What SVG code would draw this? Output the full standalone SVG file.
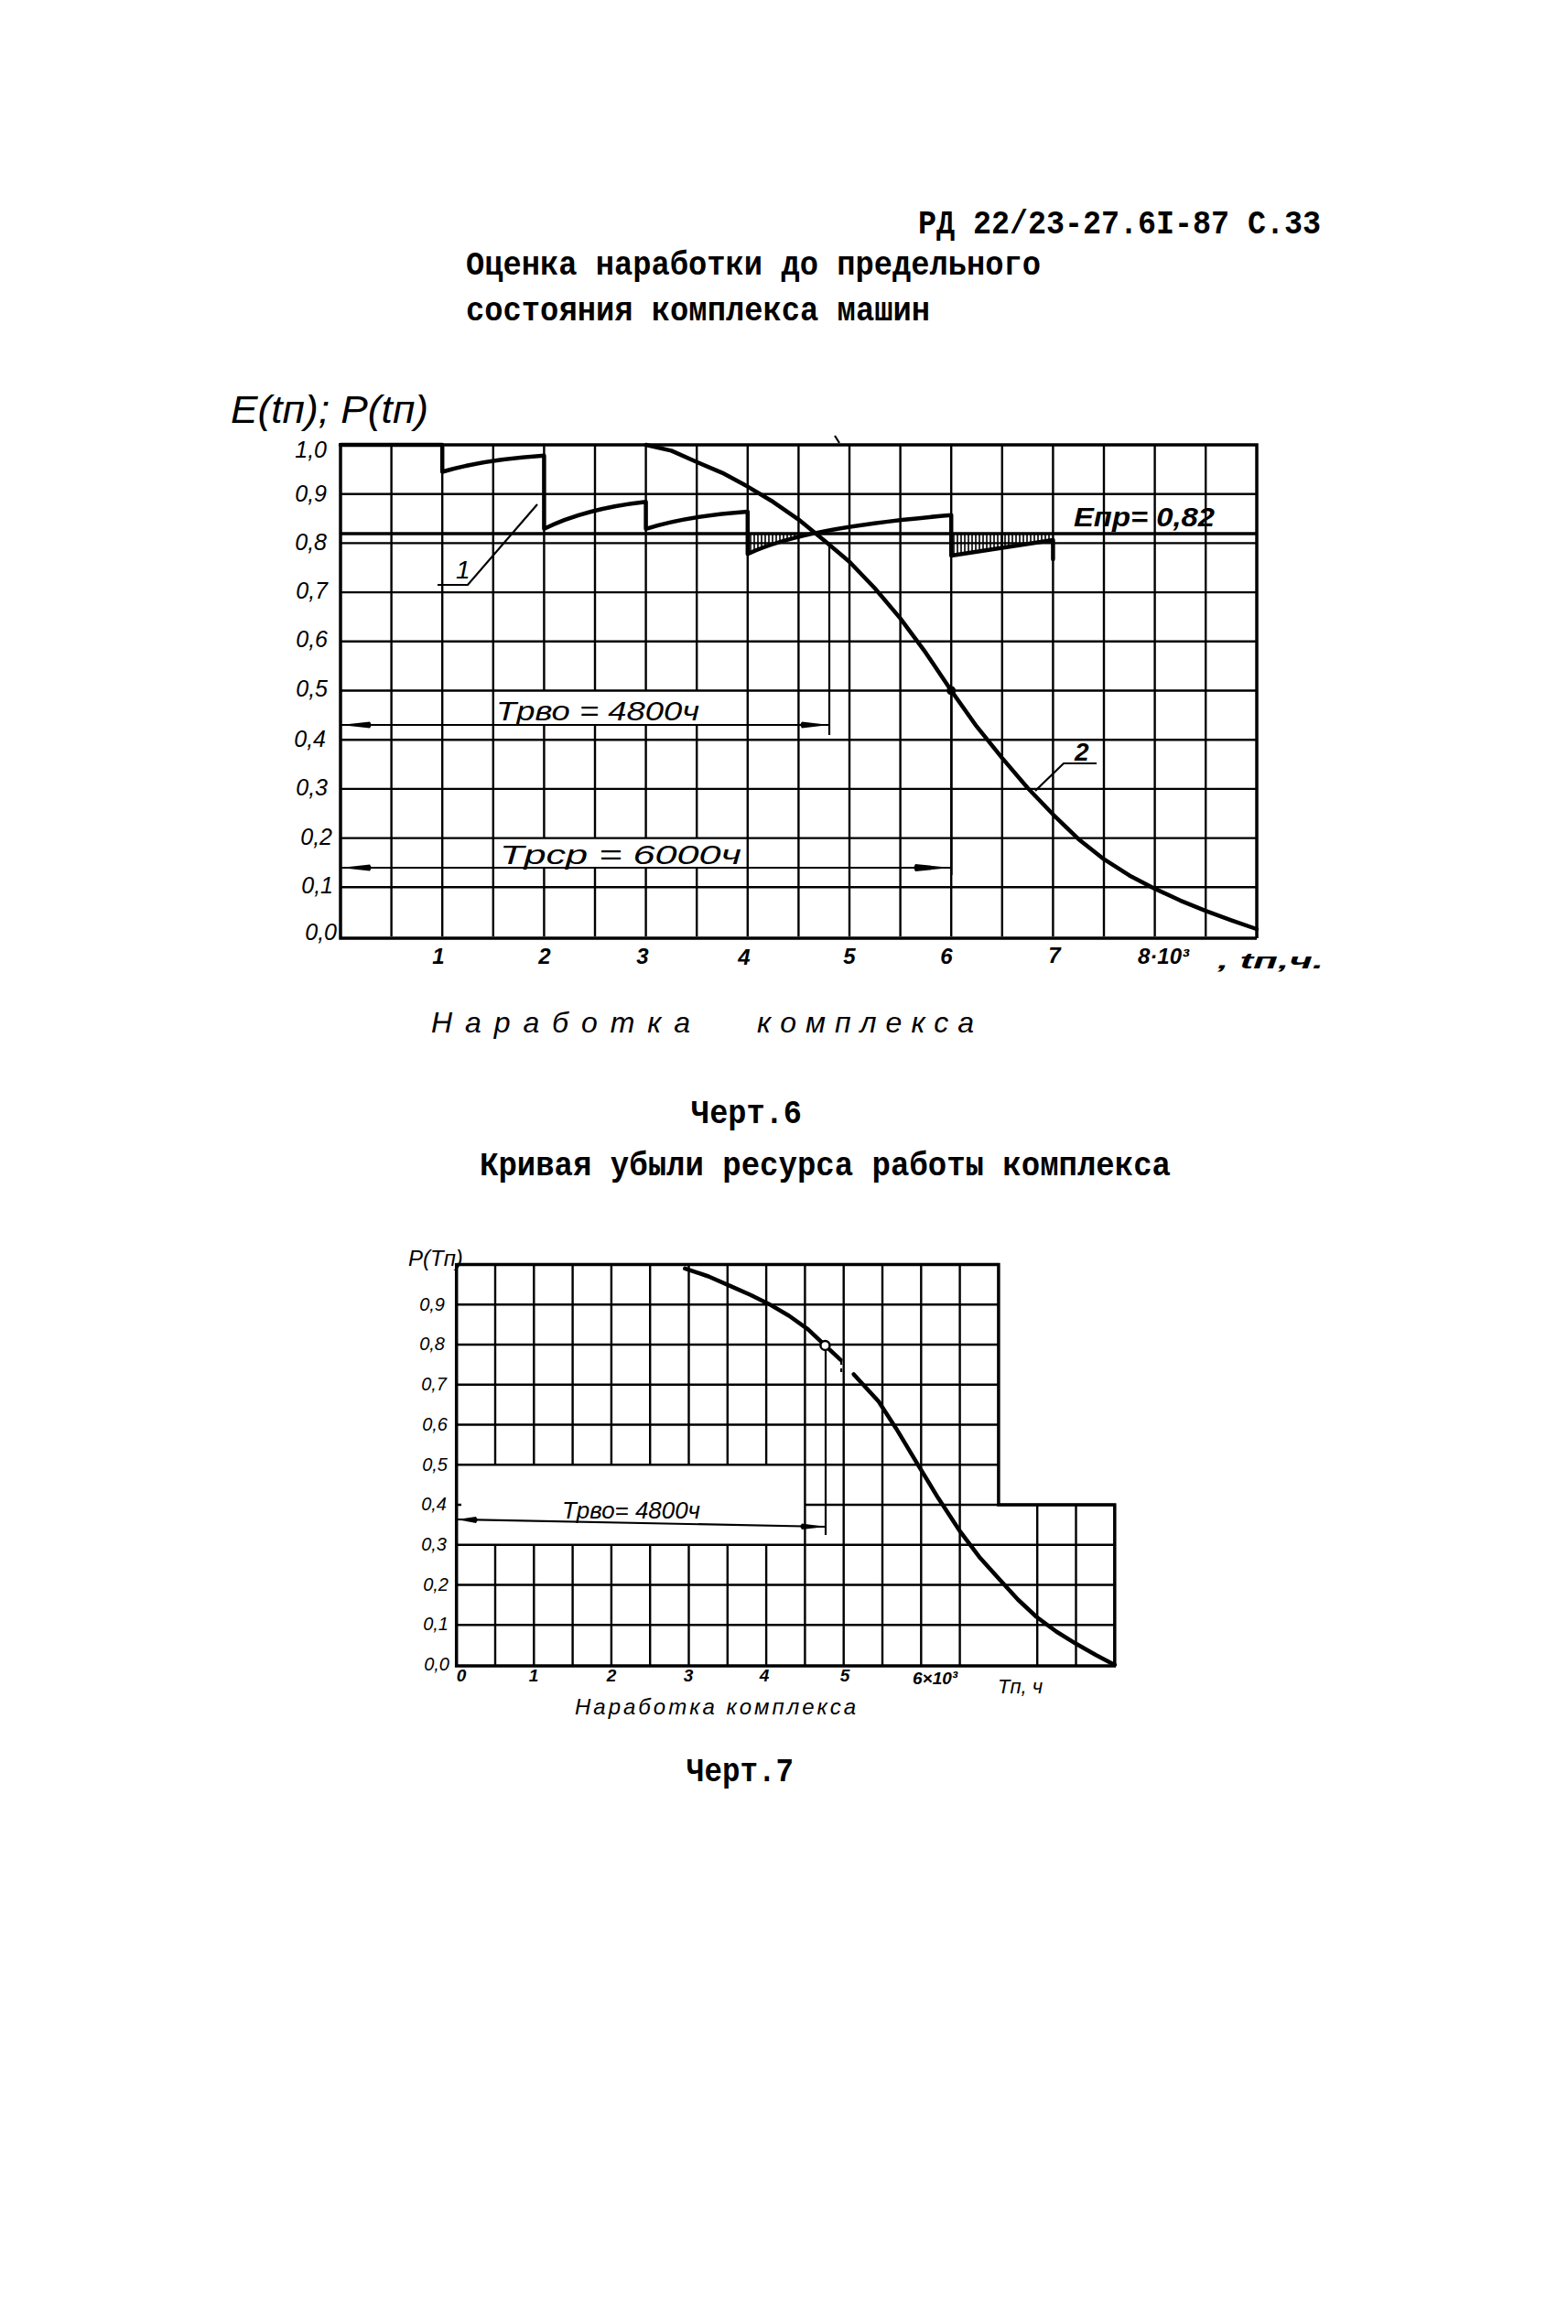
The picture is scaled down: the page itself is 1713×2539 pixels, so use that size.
<svg xmlns="http://www.w3.org/2000/svg" width="1713" height="2539" viewBox="0 0 1713 2539">
<style>
.tw{font-family:"Liberation Mono","DejaVu Sans Mono",monospace;font-weight:bold;font-size:36px;fill:#000}
.hw{font-family:"Liberation Sans","DejaVu Sans",sans-serif;font-style:italic;fill:#000}
.grid{fill:none;stroke:#000;stroke-width:2.4}
.border{fill:none;stroke:#000;stroke-width:3.5}
.curve{fill:none;stroke:#000;stroke-width:4.5;stroke-linejoin:round;stroke-linecap:round}
.thin{fill:none;stroke:#000;stroke-width:2.2}
.hatch{fill:none;stroke:#000;stroke-width:1.6}
</style>
<rect width="1713" height="2539" fill="#fff"/>

<g id="page-text">
<text class="tw" x="1003" y="255" textLength="440" lengthAdjust="spacingAndGlyphs">РД 22/23-27.6I-87 С.33</text>
<text class="tw" x="509" y="300" textLength="628" lengthAdjust="spacingAndGlyphs">Оценка наработки до предельного</text>
<text class="tw" x="509" y="350" textLength="507" lengthAdjust="spacingAndGlyphs">состояния комплекса машин</text>
<text class="tw" x="755" y="1227" textLength="121" lengthAdjust="spacingAndGlyphs">Черт.6</text>
<text class="tw" x="524" y="1284" textLength="755" lengthAdjust="spacingAndGlyphs">Кривая убыли ресурса работы комплекса</text>
<text class="tw" x="750" y="1946" textLength="117" lengthAdjust="spacingAndGlyphs">Черт.7</text>
</g>

<g id="chart6">
<g id="chart6-grid">
<path class="grid" d="M427.6,486V1023M483.2,486V1023M538.8,486V1023M816.8,486V1023M872.4,486V1023M928,486V1023M983.6,486V1023M1039.2,486V1023M1094.8,486V1023M1150.4,486V1023M1206,486V1023M1261.6,486V1023M1317.2,486V1023
M594.4,486V754.5M594.4,792V915.6M594.4,948V1023
M650,486V754.5M650,792V915.6M650,948V1023
M705.6,486V754.5M705.6,792V915.6M705.6,948V1023
M761.2,486V754.5M761.2,792V915.6M761.2,948V1023"/>
<path class="grid" d="M372,539.7H1373M372,593.4H1373M372,647.1H1373M372,700.8H1373M372,754.5H1373M372,808.2H1373M372,861.9H1373M372,915.6H1373M372,969.3H1373"/>
<path class="border" d="M372,486H1373V1025M372,484V1025H1373"/>
<line class="border" x1="372" y1="583" x2="1373" y2="583" stroke-width="3"/>
<line class="thin" x1="912" y1="476" x2="917" y2="484"/>
</g>
<g id="chart6-ylabels" class="hw" font-size="25" text-anchor="end">
<text x="357" y="500">1,0</text>
<text x="357" y="548">0,9</text>
<text x="357" y="601">0,8</text>
<text x="358" y="654">0,7</text>
<text x="358" y="707">0,6</text>
<text x="358" y="761">0,5</text>
<text x="356" y="816">0,4</text>
<text x="358" y="869">0,3</text>
<text x="363" y="923">0,2</text>
<text x="364" y="976">0,1</text>
<text x="368" y="1027">0,0</text>
</g>
<g id="chart6-xlabels" class="hw" font-size="24" font-weight="bold" text-anchor="middle">
<text x="479" y="1053">1</text>
<text x="595" y="1053">2</text>
<text x="702" y="1053">3</text>
<text x="813" y="1054">4</text>
<text x="928" y="1053">5</text>
<text x="1034" y="1053">6</text>
<text x="1152" y="1052">7</text>
<text x="1243" y="1053" text-anchor="start">8·10³</text>
<text x="1330" y="1058" text-anchor="start" textLength="116" lengthAdjust="spacingAndGlyphs">, tп,ч.</text>
</g>
<text id="chart6-ytitle" class="hw" x="252" y="462" font-size="42" textLength="216" lengthAdjust="spacingAndGlyphs">E(tп); P(tп)</text>
<g id="chart6-xtitle" class="hw" font-size="32">
<text x="471" y="1128" textLength="283" lengthAdjust="spacing">Наработка</text>
<text x="827" y="1128" textLength="237" lengthAdjust="spacing">комплекса</text>
</g>
<g id="curve-E">
<path class="curve" d="M372,486H483.2V515.5Q527.7,502.2 594.4,497.8V577.8Q638.9,555.7 705.6,548.3V577.8Q750.1,563.7 816.8,559V605.2C860,585 930,572 1039.2,562.8V607L1150.4,590V611"/>
<path class="hatch" d="M820,583V604M824,583V602.3M828,583V600.7M832,583V599.1M836,583V597.5M840,583V595.9M844,583V594.3M848,583V592.7M852,583V591.3M856,583V590.2M860,583V589.1M864,583V588M868,583V586.9M872,583V585.8
M1042,584V606.5M1046,584V605.9M1050,584V605.3M1054,584V604.7M1058,584V604M1062,584V603.4M1066,584V602.8M1070,584V602.2M1074,584V601.5M1078,584V600.9M1082,584V600.3M1086,584V599.7M1090,584V599M1094,584V598.4M1098,584V597.8M1102,584V597.2M1106,584V596.5M1110,584V595.9M1114,584V595.3M1118,584V594.7M1122,584V594.1M1126,584V593.4M1130,584V592.8M1134,584V592.2M1138,584V591.6M1142,584V590.9M1146,584V590.3"/>
</g>
<g id="curve-P">
<path class="curve" stroke-width="5" d="M705.6,486L733.4,492.4L761.2,504.8L789,516.6L816.8,531.6L844.6,548.3L872.4,567.6L900.2,590.2L928,613.8L955.8,642.8L983.6,675.6L1011.4,713.2L1039.2,754.5L1067,793.7L1094.8,828.1L1122.6,860.8L1150.4,889.8L1178.2,916.7L1206,938.7L1233.8,956.4L1261.6,970.9L1289.4,983.8L1317.2,995.1L1345,1005.3L1372.8,1015"/>
<circle cx="1039.2" cy="754.5" r="5" fill="#000"/>
</g>
<g id="label-1" class="hw" font-size="28"><text x="498" y="632">1</text></g>
<g id="label-2" class="hw" font-size="28" font-weight="bold"><text x="1174" y="831">2</text></g>
<g id="label-Enp" class="hw" font-size="30" font-weight="bold"><text x="1173" y="575" textLength="154" lengthAdjust="spacingAndGlyphs">Eпр= 0,82</text></g>
<g id="label-Trvo" class="hw" font-size="30"><text x="542" y="787" textLength="222" lengthAdjust="spacingAndGlyphs">Tрво = 4800ч</text></g>
<g id="label-Trsr" class="hw" font-size="30"><text x="546" y="944" textLength="264" lengthAdjust="spacingAndGlyphs">Tрср = 6000ч</text></g>
</g>

<g id="chart7">
<g id="chart7-grid">
<path class="grid" stroke-width="2" d="M541,1381.5V1600.3M541,1687.8V1819M583.3,1381.5V1600.3M583.3,1687.8V1819M625.6,1381.5V1600.3M625.6,1687.8V1819M667.9,1381.5V1600.3M667.9,1687.8V1819M710.2,1381.5V1600.3M710.2,1687.8V1819M752.5,1381.5V1600.3M752.5,1687.8V1819M794.8,1381.5V1600.3M794.8,1687.8V1819M837.1,1381.5V1600.3M837.1,1687.8V1819
M879.4,1381.5V1819M921.7,1381.5V1819M964,1381.5V1819M1006.3,1381.5V1819M1048.6,1381.5V1819M1133.2,1644V1819M1175.5,1644V1819"/>
<path class="grid" stroke-width="2" d="M498.7,1425.3H1090.9M498.7,1469H1090.9M498.7,1512.8H1090.9M498.7,1556.5H1090.9M498.7,1600.3H1090.9M879.4,1644H1217.8M498.7,1644H504M498.7,1687.8H1217.8M498.7,1731.5H1217.8M498.7,1775.3H1217.8"/>
<path class="border" stroke-width="3" d="M498.7,1381.5H1090.9V1644H1217.8V1820M498.7,1380V1820H1219"/>
</g>
<g id="chart7-ylabels" class="hw" font-size="20" text-anchor="end">
<text x="486" y="1432">0,9</text>
<text x="486" y="1475">0,8</text>
<text x="488" y="1519">0,7</text>
<text x="489" y="1563">0,6</text>
<text x="489" y="1607">0,5</text>
<text x="488" y="1650">0,4</text>
<text x="488" y="1694">0,3</text>
<text x="490" y="1738">0,2</text>
<text x="490" y="1781">0,1</text>
<text x="491" y="1825">0,0</text>
</g>
<text id="chart7-ytitle" class="hw" x="446" y="1383" font-size="24" font-style="normal">P(Tп)</text>
<g id="chart7-xlabels" class="hw" font-size="19" font-weight="bold" text-anchor="middle">
<text x="504" y="1837">0</text>
<text x="583" y="1837">1</text>
<text x="668" y="1837">2</text>
<text x="752" y="1837">3</text>
<text x="835" y="1837">4</text>
<text x="923" y="1837">5</text>
<text x="997" y="1840" text-anchor="start">6×10³</text>
<text x="1090" y="1850" text-anchor="start" font-weight="normal" font-size="22">Tп, ч</text>
</g>
<text id="chart7-xtitle" class="hw" x="628" y="1873" font-size="24" textLength="307" lengthAdjust="spacing">Наработка комплекса</text>
<g id="curve-P7">
<path class="curve" stroke-width="3" d="M748.3,1385.9L774,1394.5L798.2,1405.1L820,1414.8L839.6,1424.4L862,1437.5L882.8,1452.4L901.4,1469.9L918.3,1485.6"/>
<path class="curve" stroke-width="3.5" d="M932.7,1501.4L959.8,1531.1L979.2,1560.9L1002.9,1600.3L1024.9,1636.6L1047.8,1671.6L1069.8,1700.9L1092.6,1726.3L1112,1747.5L1132.4,1766.5L1154,1782.5L1175.5,1795.8L1197,1808L1217.8,1819"/>
<circle cx="901.4" cy="1469.9" r="5" fill="#fff" stroke="#000" stroke-width="2.5"/>
</g>
<g id="label-Trvo7" class="hw" font-size="26"><text x="614" y="1659" textLength="151" lengthAdjust="spacingAndGlyphs">Tрво= 4800ч</text></g>
</g>

<g id="connectors">
<polyline class="thin" points="478,639 511,639 587,551"/>
<polyline class="thin" points="1198,834 1162,834 1131,864"/>
<line class="thin" x1="906" y1="592" x2="906" y2="803"/>
<line class="thin" x1="1039.5" y1="755" x2="1039.5" y2="956"/>
<line class="thin" x1="372" y1="792" x2="906" y2="792"/>
<polygon points="372,792 404,788.5 406,792 404,795.5"/>
<polygon points="906,792 876,788.5 874,792 876,795.5"/>
<line class="thin" x1="372" y1="948" x2="1039" y2="948"/>
<polygon points="372,948 404,944.5 406,948 404,951.5"/>
<polygon points="1039,948 1000,944 998,948 1000,952"/>
<line class="thin" x1="902" y1="1475" x2="902" y2="1677"/>
<line class="thin" x1="499" y1="1660" x2="902" y2="1668"/>
<polygon points="499,1660 520,1657 522,1660.5 520,1664"/>
<polygon points="902,1668 876,1664.5 874,1667.5 876,1671"/>
<line class="thin" x1="919" y1="1487" x2="919" y2="1500" stroke-dasharray="4 4"/>
</g>
</svg>
